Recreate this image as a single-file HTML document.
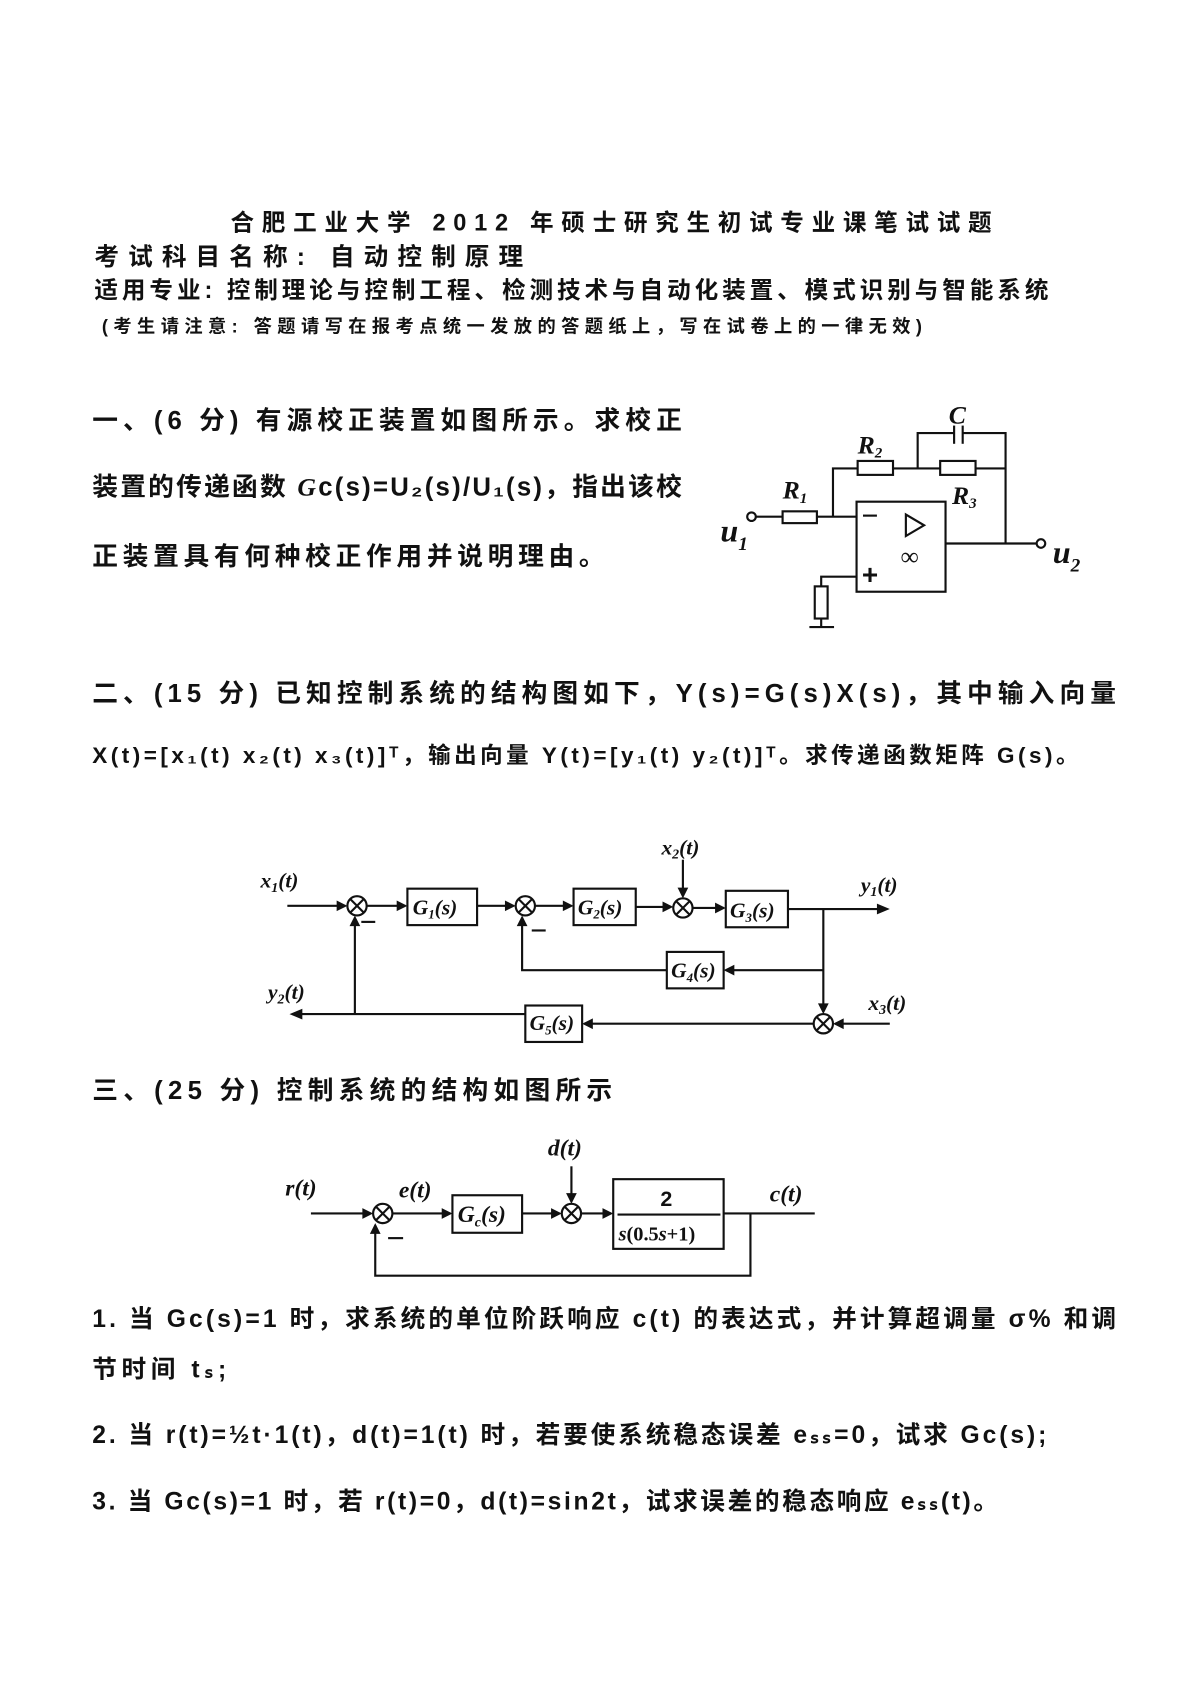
<!DOCTYPE html>
<html><head><meta charset="utf-8"><style>
html,body{margin:0;padding:0;background:#fff}
svg{display:block}
text{font-family:"Liberation Serif","Noto Serif CJK SC","Noto Sans CJK SC",serif;fill:#111}
.c{font-family:"Liberation Sans","Noto Sans CJK SC",sans-serif;font-weight:bold}
.i{font-style:italic;font-family:"Liberation Serif",serif}
line,polyline,rect,circle,path{stroke:#111;stroke-width:2;fill:none}
.a{fill:#111;stroke:none}
</style></head><body>
<svg width="1190" height="1683" viewBox="0 0 1110 1570" xmlns="http://www.w3.org/2000/svg">
<text x="215" y="215" class="c" font-size="22" font-weight="normal" textLength="710">合肥工业大学 2012 年硕士研究生初试专业课笔试试题</text>
<text x="88" y="247" class="c" font-size="23" textLength="400">考试科目名称: 自动控制原理</text>
<text x="88" y="278" class="c" font-size="22" textLength="890">适用专业: 控制理论与控制工程、检测技术与自动化装置、模式识别与智能系统</text>
<text x="95" y="310" class="c" font-size="17" textLength="765">(考生请注意: 答题请写在报考点统一发放的答题纸上，写在试卷上的一律无效)</text>
<text x="86" y="400" class="c" font-size="24" textLength="550">一、(6 分) 有源校正装置如图所示。求校正</text>
<text x="86" y="462" class="c" font-size="24" textLength="550">装置的传递函数 <tspan class="i">G</tspan>c(s)=U₂(s)/U₁(s)，指出该校</text>
<text x="86" y="527" class="c" font-size="24" textLength="478">正装置具有何种校正作用并说明理由。</text>
<circle cx="701" cy="482" r="4"/>
<line x1="705" y1="482" x2="730" y2="482"/>
<rect x="730" y="477" width="32" height="11"/>
<line x1="762" y1="482" x2="799" y2="482"/>
<polyline points="777,482 777,437 800,437"/>
<rect x="800" y="430" width="33" height="13"/>
<line x1="833" y1="437" x2="877" y2="437"/>
<rect x="877" y="430" width="33" height="13"/>
<line x1="910" y1="437" x2="938" y2="437"/>
<polyline points="856,437 856,404 890,404"/>
<polyline points="898,404 938,404 938,507"/>
<line x1="890" y1="397" x2="890" y2="414"/>
<line x1="898" y1="397" x2="898" y2="414"/>
<rect x="799" y="468" width="83" height="84"/>
<line x1="805" y1="481" x2="818" y2="481"/>
<text x="804" y="545" font-size="26" class="c">+</text>
<path d="M845 480 L845 500 L862 490 Z"/>
<text x="840" y="527" font-size="24">∞</text>
<line x1="882" y1="507" x2="967" y2="507"/>
<circle cx="971" cy="507" r="4"/>
<polyline points="799,538 766,538 766,547"/>
<rect x="760" y="547" width="12" height="30"/>
<line x1="766" y1="577" x2="766" y2="585"/>
<line x1="755" y1="585" x2="778" y2="585"/>
<text x="730" y="465" font-size="24" class="i" font-weight="bold">R<tspan font-size="14" dy="4">1</tspan></text>
<text x="800" y="423" font-size="24" class="i" font-weight="bold">R<tspan font-size="14" dy="4">2</tspan></text>
<text x="888" y="470" font-size="24" class="i" font-weight="bold">R<tspan font-size="14" dy="4">3</tspan></text>
<text x="885" y="395" font-size="24" class="i" font-weight="bold">C</text>
<text x="672" y="505" font-size="30" class="i" font-weight="bold">u<tspan font-size="18" dy="8">1</tspan></text>
<text x="982" y="525" font-size="30" class="i" font-weight="bold">u<tspan font-size="18" dy="8">2</tspan></text>
<text x="86" y="655" class="c" font-size="24" textLength="955">二、(15 分) 已知控制系统的结构图如下，Y(s)=G(s)X(s)，其中输入向量</text>
<text x="86" y="712" class="c" font-size="21" textLength="920">X(t)=[x₁(t) x₂(t) x₃(t)]ᵀ，输出向量 Y(t)=[y₁(t) y₂(t)]ᵀ。求传递函数矩阵 G(s)。</text>
<g font-size="20" class="i" font-weight="bold">
<text x="243" y="828">x<tspan font-size="13" dy="4">1</tspan><tspan dy="-4">(t)</tspan></text>
<text x="617" y="797">x<tspan font-size="13" dy="4">2</tspan><tspan dy="-4">(t)</tspan></text>
<text x="803" y="832">y<tspan font-size="13" dy="4">1</tspan><tspan dy="-4">(t)</tspan></text>
<text x="250" y="932">y<tspan font-size="13" dy="4">2</tspan><tspan dy="-4">(t)</tspan></text>
<text x="810" y="942">x<tspan font-size="13" dy="4">3</tspan><tspan dy="-4">(t)</tspan></text>
<text x="385" y="853">G<tspan font-size="12" dy="4">1</tspan><tspan dy="-4">(s)</tspan></text>
<text x="539" y="853">G<tspan font-size="12" dy="4">2</tspan><tspan dy="-4">(s)</tspan></text>
<text x="681" y="856">G<tspan font-size="12" dy="4">3</tspan><tspan dy="-4">(s)</tspan></text>
<text x="626" y="912">G<tspan font-size="12" dy="4">4</tspan><tspan dy="-4">(s)</tspan></text>
<text x="494" y="961">G<tspan font-size="12" dy="4">5</tspan><tspan dy="-4">(s)</tspan></text>
</g>
<rect x="380" y="829" width="65" height="34"/>
<rect x="535" y="829" width="58" height="34"/>
<rect x="677" y="831" width="58" height="34"/>
<rect x="622" y="888" width="53" height="34"/>
<rect x="490" y="938" width="53" height="34"/>
<g>
<circle cx="333" cy="845" r="9"/><path d="M327 839 L339 851 M339 839 L327 851"/>
<circle cx="490" cy="845" r="9"/><path d="M484 839 L496 851 M496 839 L484 851"/>
<circle cx="637" cy="847" r="9"/><path d="M631 841 L643 853 M643 841 L631 853"/>
<circle cx="768" cy="955" r="9"/><path d="M762 949 L774 961 M774 949 L762 961"/>
</g>
<line x1="268" y1="845" x2="322" y2="845"/><path class="a" d="M324 845 l-10 -5 v10z"/>
<line x1="342" y1="845" x2="378" y2="845"/><path class="a" d="M380 845 l-10 -5 v10z"/>
<line x1="445" y1="845" x2="479" y2="845"/><path class="a" d="M481 845 l-10 -5 v10z"/>
<line x1="499" y1="845" x2="533" y2="845"/><path class="a" d="M535 845 l-10 -5 v10z"/>
<line x1="593" y1="846" x2="626" y2="846"/><path class="a" d="M628 846 l-10 -5 v10z"/>
<line x1="646" y1="847" x2="675" y2="847"/><path class="a" d="M677 847 l-10 -5 v10z"/>
<line x1="637" y1="802" x2="637" y2="836"/><path class="a" d="M637 838 l-5 -10 h10z"/>
<line x1="735" y1="848" x2="825" y2="848"/><path class="a" d="M830 848 l-12 -5 v10z"/>
<line x1="768" y1="848" x2="768" y2="944"/><path class="a" d="M768 946 l-5 -10 h10z"/>
<line x1="768" y1="905" x2="677" y2="905"/><path class="a" d="M675 905 l10 -5 v10z"/>
<polyline points="622,905 487,905 487,856"/><path class="a" d="M487 854 l-5 10 h10z"/>
<line x1="830" y1="955" x2="779" y2="955"/><path class="a" d="M777 955 l10 -5 v10z"/>
<line x1="759" y1="955" x2="545" y2="955"/><path class="a" d="M543 955 l10 -5 v10z"/>
<line x1="490" y1="946" x2="275" y2="946"/><path class="a" d="M270 946 l12 -5 v10z"/>
<line x1="331" y1="946" x2="331" y2="856"/><path class="a" d="M331 854 l-5 10 h10z"/>
<line x1="337" y1="860" x2="350" y2="860"/>
<line x1="496" y1="868" x2="509" y2="868"/>
<text x="86" y="1025" class="c" font-size="24" textLength="485">三、(25 分) 控制系统的结构如图所示</text>
<g font-size="22" class="i" font-weight="bold">
<text x="266" y="1115">r(t)</text>
<text x="372" y="1117">e(t)</text>
<text x="511" y="1078">d(t)</text>
<text x="718" y="1121">c(t)</text>
<text x="427" y="1140">G<tspan font-size="13" dy="4">c</tspan><tspan dy="-4">(s)</tspan></text>
</g>
<text x="616" y="1125" font-size="20" class="c" font-weight="normal">2</text>
<line x1="576" y1="1133" x2="672" y2="1133"/>
<text x="577" y="1157" font-size="19" font-weight="bold"><tspan class="i">s</tspan>(0.5<tspan class="i">s</tspan>+1)</text>
<rect x="422" y="1115" width="65" height="35"/>
<rect x="572" y="1100" width="103" height="65"/>
<circle cx="357" cy="1132" r="9"/><path d="M351 1126 L363 1138 M363 1126 L351 1138"/>
<circle cx="533" cy="1132" r="9"/><path d="M527 1126 L539 1138 M539 1126 L527 1138"/>
<line x1="290" y1="1132" x2="346" y2="1132"/><path class="a" d="M348 1132 l-10 -5 v10z"/>
<line x1="366" y1="1132" x2="420" y2="1132"/><path class="a" d="M422 1132 l-10 -5 v10z"/>
<line x1="487" y1="1132" x2="522" y2="1132"/><path class="a" d="M524 1132 l-10 -5 v10z"/>
<line x1="542" y1="1132" x2="570" y2="1132"/><path class="a" d="M572 1132 l-10 -5 v10z"/>
<line x1="533" y1="1088" x2="533" y2="1121"/><path class="a" d="M533 1123 l-5 -10 h10z"/>
<line x1="675" y1="1132" x2="760" y2="1132"/>
<polyline points="700,1132 700,1190 350,1190 350,1143"/><path class="a" d="M350 1141 l-5 10 h10z"/>
<line x1="362" y1="1155" x2="376" y2="1155"/>
<text x="86" y="1238" class="c" font-size="23" textLength="955">1. 当 Gc(s)=1 时，求系统的单位阶跃响应 c(t) 的表达式，并计算超调量 σ% 和调</text>
<text x="86" y="1285" class="c" font-size="23" textLength="125">节时间 tₛ;</text>
<text x="86" y="1346" class="c" font-size="23" textLength="890">2. 当 r(t)=½t·1(t)，d(t)=1(t) 时，若要使系统稳态误差 eₛₛ=0，试求 Gc(s);</text>
<text x="86" y="1408" class="c" font-size="23" textLength="845">3. 当 Gc(s)=1 时，若 r(t)=0，d(t)=sin2t，试求误差的稳态响应 eₛₛ(t)。</text>
</svg>
</body></html>
